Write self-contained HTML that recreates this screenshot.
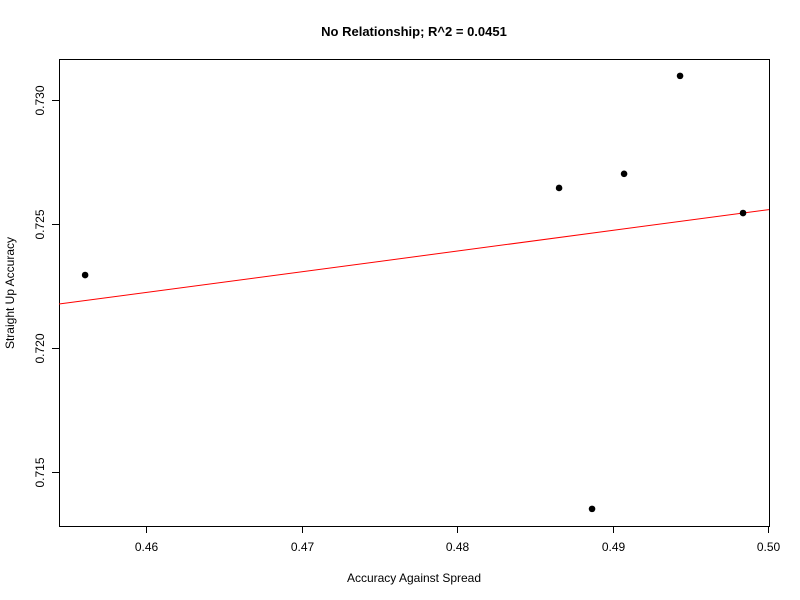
<!DOCTYPE html>
<html><head><meta charset="utf-8">
<style>
html,body{margin:0;padding:0;background:#fff;}
svg{display:block;font-family:"Liberation Sans",Arial,sans-serif;}
</style></head>
<body>
<svg id="chart" width="800" height="600" viewBox="0 0 800 600">
  <rect width="800" height="600" fill="#fff"/>
  <text x="414" y="36" text-anchor="middle" font-size="13" font-weight="bold">No Relationship; R^2 = 0.0451</text>
  <rect x="59.5" y="59.5" width="710" height="467" fill="none" stroke="#000" stroke-width="1"/>
  <g id="xaxis"></g>
  <g id="yaxis"></g>
  <g id="fit"></g>
  <g id="pts"></g>
  <text x="414" y="582" text-anchor="middle" font-size="12">Accuracy Against Spread</text>
  <text transform="translate(14,293) rotate(-90)" text-anchor="middle" font-size="12">Straight Up Accuracy</text>
</svg>
<script>
const xValues = [0.45608, 0.48656, 0.48868, 0.49074, 0.49434, 0.49839];
const yValues = [0.72294, 0.72645, 0.71351, 0.72702, 0.73097, 0.72544];
const xTicks = [0.46, 0.47, 0.48, 0.49, 0.50];
const xTickLabels = ["0.46", "0.47", "0.48", "0.49", "0.50"];
const yTicks = [0.715, 0.720, 0.725, 0.730];
const yTickLabels = ["0.715", "0.720", "0.725", "0.730"];

const X0 = 59, X1 = 769, Y0 = 59, Y1 = 526;
const xMin = 0.45440, xMax = 0.50006, yMin = 0.71282, yMax = 0.73165;
function sx(v){ return X0 + (v - xMin) / (xMax - xMin) * (X1 - X0); }
function sy(v){ return Y1 - (v - yMin) / (yMax - yMin) * (Y1 - Y0); }
const NS = "http://www.w3.org/2000/svg";
function mk(tag, attrs, parent){
  const e = document.createElementNS(NS, tag);
  for (const k in attrs) e.setAttribute(k, attrs[k]);
  parent.appendChild(e);
  return e;
}
const xg = document.getElementById('xaxis');
xTicks.forEach((t, i) => {
  const x = Math.round(sx(t)) + 0.5;
  const l = mk('line', {x1:x, x2:x, y1:526, y2:533, stroke:'#000'}, xg);
  
  
  const tx = mk('text', {x:x, y:551, 'text-anchor':'middle', 'font-size':'12'}, xg);
  tx.textContent = xTickLabels[i];
  
  
});
const yg = document.getElementById('yaxis');
yTicks.forEach((t, i) => {
  const y = Math.round(sy(t)) + 0.5;
  const l = mk('line', {x1:52, x2:59, y1:y, y2:y, stroke:'#000'}, yg);
  
  
  const tx = mk('text', {transform:`translate(44,${y}) rotate(-90)`, 'text-anchor':'middle', 'font-size':'12'}, yg);
  tx.textContent = yTickLabels[i];
  
  
});
// least squares fit
const n = xValues.length;
const mx = xValues.reduce((a,b)=>a+b,0)/n, my = yValues.reduce((a,b)=>a+b,0)/n;
let sxy = 0, sxx = 0;
for (let i=0;i<n;i++){ sxy += (xValues[i]-mx)*(yValues[i]-my); sxx += (xValues[i]-mx)**2; }
const b = sxy/sxx, a = my - b*mx;
const fg = document.getElementById('fit');
const fl = mk('line', {x1:X0, y1:sy(a+b*xMin), x2:X1, y2:sy(a+b*xMax), stroke:'#ff0000', 'stroke-width':'1'}, fg);


const pg = document.getElementById('pts');
xValues.forEach((v, i) => {
  const c = mk('circle', {cx:sx(v), cy:sy(yValues[i]), r:3.3, fill:'#000'}, pg);
  
  
});
</script>
</body></html>
